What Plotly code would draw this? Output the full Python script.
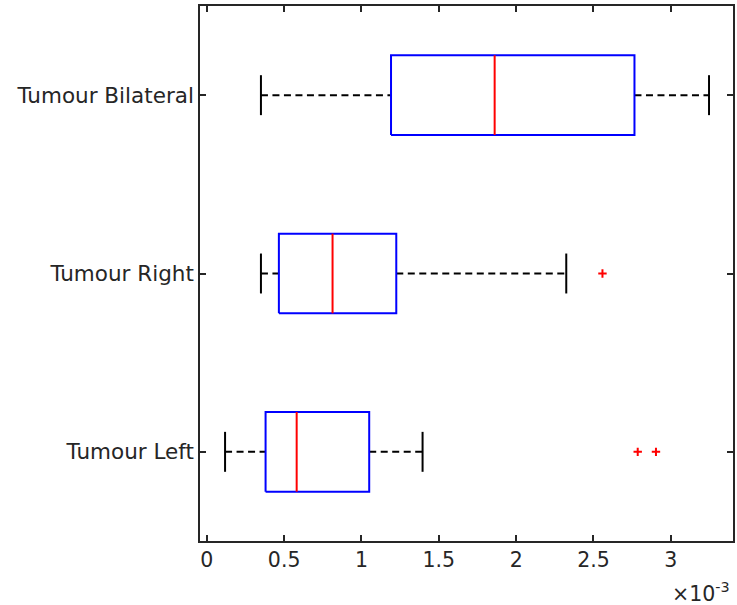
import plotly.graph_objects as go

categories = ["Tumour Left", "Tumour Right", "Tumour Bilateral"]
lower_whisker = [0.118e-3, 0.350e-3, 0.350e-3]
q1 = [0.380e-3, 0.466e-3, 1.191e-3]
median = [0.581e-3, 0.813e-3, 1.861e-3]
q3 = [1.050e-3, 1.225e-3, 2.765e-3]
upper_whisker = [1.395e-3, 2.324e-3, 3.247e-3]
outliers = [[2.786e-3, 2.904e-3], [2.558e-3], []]

x_tickvals = [0, 0.5e-3, 1e-3, 1.5e-3, 2e-3, 2.5e-3, 3e-3]
x_ticktext = ["0", "0.5", "1", "1.5", "2", "2.5", "3"]

HALF_BOX = 0.2235
HALF_CAP = 0.112
FONT = "DejaVu Sans"
AX = "#262626"

fig = go.Figure()
for i, cat in enumerate(categories):
    y = i + 1
    # whiskers (dashed)
    fig.add_trace(go.Scatter(x=[lower_whisker[i], q1[i]], y=[y, y], mode="lines",
                             line=dict(color="black", width=2, dash="7px,4.5px"),
                             showlegend=False, hoverinfo="skip"))
    fig.add_trace(go.Scatter(x=[q3[i], upper_whisker[i]], y=[y, y], mode="lines",
                             line=dict(color="black", width=2, dash="7px,4.5px"),
                             showlegend=False, hoverinfo="skip"))
    # caps
    for w in (lower_whisker[i], upper_whisker[i]):
        fig.add_trace(go.Scatter(x=[w, w], y=[y - HALF_CAP, y + HALF_CAP], mode="lines",
                                 line=dict(color="black", width=2),
                                 showlegend=False, hoverinfo="skip"))
    # box
    fig.add_trace(go.Scatter(x=[q1[i], q3[i], q3[i], q1[i], q1[i]],
                             y=[y - HALF_BOX, y - HALF_BOX, y + HALF_BOX, y + HALF_BOX, y - HALF_BOX],
                             mode="lines", line=dict(color="#0000ff", width=2),
                             showlegend=False, hoverinfo="skip"))
    # median
    fig.add_trace(go.Scatter(x=[median[i], median[i]], y=[y - HALF_BOX, y + HALF_BOX], mode="lines",
                             line=dict(color="#ff0000", width=2),
                             showlegend=False, hoverinfo="skip"))
    # outliers
    if outliers[i]:
        fig.add_trace(go.Scatter(x=outliers[i], y=[y] * len(outliers[i]), mode="markers",
                                 marker=dict(symbol="cross-thin", size=6, color="#ff0000",
                                             line=dict(color="#ff0000", width=2)),
                                 showlegend=False, hoverinfo="skip"))

fig.update_layout(
    width=737, height=605,
    margin=dict(l=200, r=2, t=6, b=64),
    plot_bgcolor="white", paper_bgcolor="white",
    font=dict(family=FONT, size=21, color=AX),
    xaxis=dict(range=[-0.044e-3, 3.402e-3], tickvals=x_tickvals, ticktext=x_ticktext,
               showgrid=False, zeroline=False, showline=True, linecolor=AX, linewidth=1.6,
               mirror="allticks", ticks="inside", ticklen=6, tickcolor=AX, tickwidth=1.6,
               tickfont=dict(size=20.5, color=AX)),
    yaxis=dict(range=[0.5, 3.5], tickvals=[1, 2, 3], ticktext=categories,
               showgrid=False, zeroline=False, showline=True, linecolor=AX, linewidth=1.6,
               mirror="allticks", ticks="inside", ticklen=6, tickcolor=AX, tickwidth=1.6,
               tickfont=dict(size=21.5, color=AX), ticklabelstandoff=0),
    annotations=[
        dict(text="×10<sup>-3</sup>", xref="paper", yref="paper", x=0.998, y=-0.125,
             xanchor="right", yanchor="bottom", showarrow=False,
             font=dict(size=20.5, color=AX)),
    ],
)

fig.write_html("out.html")
